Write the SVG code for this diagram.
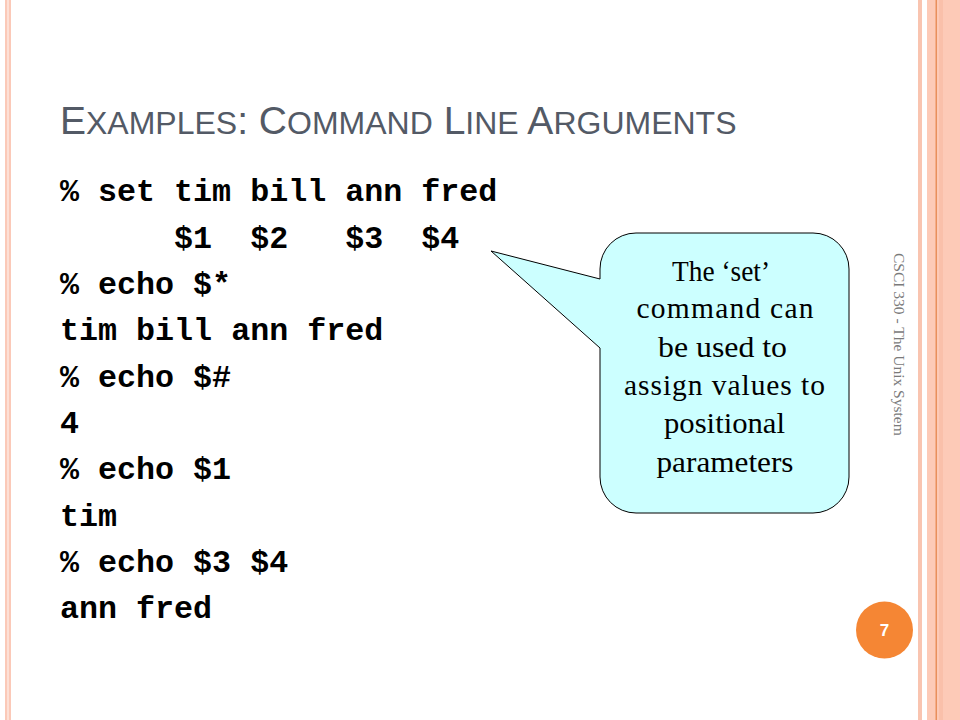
<svg xmlns="http://www.w3.org/2000/svg" width="960" height="720" viewBox="0 0 960 720">
<style>
.code{font-family:"Liberation Mono","Courier New",monospace;font-weight:bold;font-size:31.7px;fill:#000;white-space:pre}
.title{font-family:"Liberation Sans",Arial,sans-serif;fill:#535a66}
.big{font-size:39px}
.sm{font-size:32px}
.call{font-family:"Liberation Serif","Times New Roman",serif;font-size:29.5px;fill:#000;text-anchor:middle}
.side{font-family:"Liberation Serif","Times New Roman",serif;font-size:15.5px;fill:#7a7a7a}
</style>
<rect x="0" y="0" width="960" height="720" fill="#ffffff"/>
<g id="border-left">
<rect x="5" y="0" width="6" height="720" fill="#fbc9b8"/>
<rect x="7" y="0" width="2" height="720" fill="#fde0d6"/>
</g>
<g id="border-right">
<rect x="918" y="0" width="4" height="720" fill="#f9c4b0"/>
<rect x="927" y="0" width="33" height="720" fill="#fdcab7"/>
<rect x="939" y="0" width="4" height="720" fill="#fac0aa"/>
<rect x="935.5" y="0" width="1.5" height="720" fill="#e98f5c"/>
</g>
<g id="title">
<text class="title" x="60" y="134"><tspan class="big">E</tspan><tspan class="sm">XAMPLES</tspan><tspan class="big">: C</tspan><tspan class="sm">OMMAND</tspan><tspan class="big"> L</tspan><tspan class="sm">INE</tspan><tspan class="big"> A</tspan><tspan class="sm">RGUMENTS</tspan></text>
</g>
<g id="code">
<text class="code" x="60" y="201">% set tim bill ann fred</text>
<text class="code" x="60" y="247.5">      $1  $2   $3  $4</text>
<text class="code" x="60" y="294">% echo $*</text>
<text class="code" x="60" y="340">tim bill ann fred</text>
<text class="code" x="60" y="386.5">% echo $#</text>
<text class="code" x="60" y="433">4</text>
<text class="code" x="60" y="479">% echo $1</text>
<text class="code" x="60" y="525.5">tim</text>
<text class="code" x="60" y="572">% echo $3 $4</text>
<text class="code" x="60" y="618">ann fred</text>
</g>
<g id="callout">
<path d="M636,233 H813 A36,36 0 0 1 849,269 V477 A36,36 0 0 1 813,513 H636 A36,36 0 0 1 600,477 V348 L491,251 L600,279 V269 A36,36 0 0 1 636,233 Z" fill="#ccffff" stroke="#000" stroke-width="1"/>
<text class="call" x="721" y="281" textLength="98" lengthAdjust="spacingAndGlyphs">The ‘set’</text>
<text class="call" x="725" y="318.3" textLength="177" lengthAdjust="spacing">command can</text>
<text class="call" x="722.5" y="356.7" textLength="129" lengthAdjust="spacingAndGlyphs">be used to</text>
<text class="call" x="724.5" y="395" textLength="201" lengthAdjust="spacing">assign values to</text>
<text class="call" x="724.5" y="433.3" textLength="121" lengthAdjust="spacingAndGlyphs">positional</text>
<text class="call" x="725" y="471.7" textLength="137" lengthAdjust="spacingAndGlyphs">parameters</text>
</g>
<g id="side-label">
<text class="side" transform="translate(894,253) rotate(90)">CSCI 330 - The Unix System</text>
</g>
<g id="page-number">
<circle cx="884.5" cy="630" r="28.5" fill="#f58634"/>
<text x="884.5" y="636" text-anchor="middle" font-family="Liberation Sans,Arial,sans-serif" font-weight="bold" font-size="17" fill="#ffffff">7</text>
</g>
</svg>
